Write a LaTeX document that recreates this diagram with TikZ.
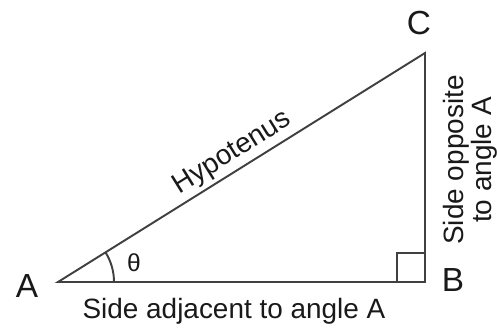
\documentclass[tikz,border=0pt]{standalone}
\usepackage{fontspec}
\setmainfont{Liberation Sans}
\begin{document}
\begin{tikzpicture}[x=0.02cm, y=0.02cm, line width=1.1pt,
    side/.style={font=\fontsize{15.9}{14.3}\selectfont, text=black!90},
    vertex/.style={font=\fontsize{19}{20}\selectfont, text=black!90}]
    \useasboundingbox (0,0) rectangle (497,328);
    % Corners of the triangle
        \coordinate (A) at (58,46);
        \coordinate (B) at (425,46);
        \coordinate (C) at (425,275);
    % Triangle
        \draw[black!75] (A) -- (B) -- (C) -- cycle;
    % Right angle at B
        \draw[black!75, line width=0.9pt] (397,46) |- (425,75);
    % Angle at A
        \draw[black!75] (114,46) arc (0:32:56);
        \node[font=\fontsize{14}{14}\selectfont, text=black!90] (theta) at (134,65) {θ};
    % Vertex labels
        \node[vertex, anchor=base] (labA) at (27,31) {A};
        \node[vertex, anchor=base] (labB) at (453,36) {B};
        \node[vertex, anchor=base] (labC) at (419,293) {C};
    % Side labels
        \path (A) -- (C) node[side, midway, sloped, above=2pt, inner sep=0pt] (hyp) {Hypotenus};
        \node[side, anchor=base] (adj) at (234,10) {Side adjacent to angle A};
        \node[side, rotate=90, align=center] (opp) at (470,168) {Side opposite\\to angle A};
\end{tikzpicture}
\end{document}
